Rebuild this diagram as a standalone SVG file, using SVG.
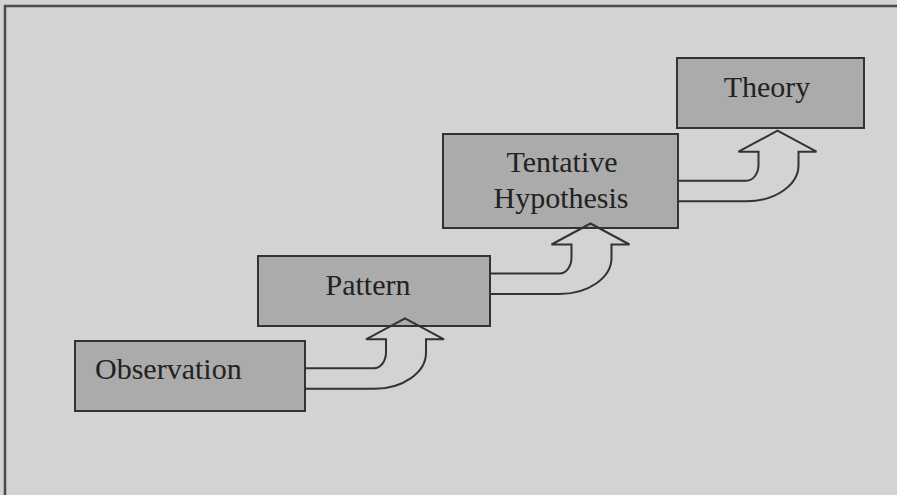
<svg xmlns="http://www.w3.org/2000/svg" width="897" height="495" viewBox="0 0 897 495">
  <style>
    .box { fill: #ababab; stroke: #333; stroke-width: 2; }
    .label { font-family: "Liberation Serif", "Times New Roman", serif; font-size: 30px; fill: #222; }
    .mid { text-anchor: middle; }
    .arrow { fill: none; stroke: #333; stroke-width: 2; stroke-linejoin: miter; }
  </style>
  <defs>
    <!-- curved "step up" arrow: origin at the source box's right edge, upper shaft line -->
    <path id="stepArrow" d="M0,0 H69 A12,16 0 0 0 81,-16 V-29 H61 L100,-50 L139,-29 H121 V-16 A52,36 0 0 1 69,20.5 H0"/>
  </defs>

  <!-- page background and frame -->
  <rect x="0" y="0" width="897" height="495" fill="#d3d3d3"/>
  <path d="M5,495 V6 H897" fill="none" stroke="#4a4a4a" stroke-width="2.5"/>

  <g id="observation">
    <rect class="box" x="75" y="341" width="230" height="70"/>
    <text class="label" x="95" y="379">Observation</text>
  </g>

  <g id="pattern">
    <rect class="box" x="258" y="256" width="232" height="70"/>
    <text class="label mid" x="368" y="295">Pattern</text>
  </g>

  <g id="hypothesis">
    <rect class="box" x="443" y="134" width="235" height="94"/>
    <text class="label mid" x="562" y="172">Tentative</text>
    <text class="label mid" x="561" y="208">Hypothesis</text>
  </g>

  <g id="theory">
    <rect class="box" x="677" y="58" width="187" height="70"/>
    <text class="label mid" x="767" y="97">Theory</text>
  </g>

  <g id="connectors" class="arrow">
    <use href="#stepArrow" transform="translate(305,368.3)"/>
    <use href="#stepArrow" transform="translate(490.5,273.5)"/>
    <use href="#stepArrow" transform="translate(677.5,180.7)"/>
  </g>
</svg>
